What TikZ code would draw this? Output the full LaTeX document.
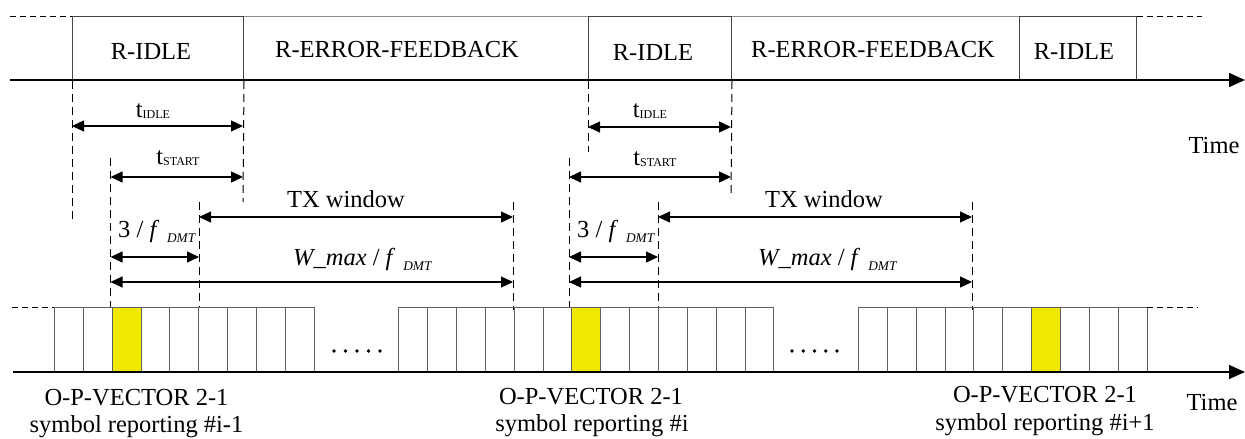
\documentclass[tikz,border=0pt]{standalone}
\usepackage{fontspec}
\setmainfont{Liberation Serif}
\usetikzlibrary{arrows.meta}

\definecolor{cellyellow}{RGB}{240,232,0}
\definecolor{boxedge}{RGB}{70,70,70}
\definecolor{celledge}{RGB}{95,95,95}
\definecolor{topedge}{RGB}{140,140,140}

% small lowered text used for t_IDLE, t_START and f_DMT
\newcommand\lowsub[1]{\raisebox{-1pt}{\fontsize{12}{12}\selectfont #1}}
\newcommand\dmtsub{\hspace{8pt}\raisebox{-5pt}{\fontsize{13.3}{13}\selectfont\itshape DMT}}

\tikzset{
  txt/.style={font=\fontsize{24.5}{29}\selectfont, inner sep=0pt, anchor=base},
  txtw/.style={txt, anchor=base west},
  timebox/.style={draw=boxedge, line width=1pt, minimum height=64pt, inner sep=0pt, anchor=north west},
  gapbox/.style={minimum height=64pt, inner sep=0pt, anchor=north west},
  cell/.style={draw=celledge, line width=0.9pt, minimum width=28.85pt, minimum height=65pt, inner sep=0pt, anchor=north west},
  hot/.style={cell, fill=cellyellow},
  guide/.style={line width=1pt, dash pattern=on 8pt off 5pt},
  stub/.style={line width=1pt, dash pattern=on 6pt off 4pt},
  dim/.style={line width=1.2pt, {Triangle[length=12pt,width=11pt]}-{Triangle[length=12pt,width=11pt]}},
  axis/.style={line width=1.5pt, -{Triangle[length=16pt,width=14pt]}},
  dot/.style={circle, fill=black, inner sep=0pt, minimum size=3.8pt}
}

\begin{document}
\begin{tikzpicture}[x=1pt,y=-1pt]
\useasboundingbox (0,0) rectangle (1245,439);

% ---------- upper time line: R-IDLE / R-ERROR-FEEDBACK states ----------
\node[timebox, minimum width=171pt] (idleA) at (72,16) {};
\node[gapbox,  minimum width=345pt] (errA)  at (243,16) {};
\node[timebox, minimum width=143pt] (idleB) at (588,16) {};
\node[gapbox,  minimum width=288pt] (errB)  at (731,16) {};
\node[timebox, minimum width=117pt] (idleC) at (1019,16) {};

\draw[topedge, line width=1pt] (idleA.north east) -- (idleB.north west);
\draw[topedge, line width=1pt] (idleB.north east) -- (idleC.north west);

\coordinate (topL) at (10,16);
\coordinate (topR) at (1202,16);
\draw[stub] (topL) -- (idleA.north west);
\draw[stub] (idleC.north east) -- (topR);

\node[txt] (lidleA) at (151,59) {R-IDLE};
\node[txt] (lerrA)  at (397,57) {R-ERROR-FEEDBACK};
\node[txt] (lidleB) at (653,60) {R-IDLE};
\node[txt] (lerrB)  at (873,57) {R-ERROR-FEEDBACK};
\node[txt] (lidleC) at (1074,59) {R-IDLE};

\coordinate (axAstart) at (10,80);
\coordinate (axAend) at (1245,80);
\draw[axis] (axAstart) -- (axAend);
\node[txt] (timeA) at (1214,153) {Time};

% ---------- guide lines, first report ----------
\coordinate (gA1) at (72,223);
\coordinate (gA2) at (243,202);
\coordinate (gA3t) at (110.5,158);  \coordinate (gA3b) at (110.5,307);
\coordinate (gA4t) at (199,202);    \coordinate (gA4b) at (199,307);
\coordinate (gA5t) at (513,202);    \coordinate (gA5b) at (513,310);
\draw[guide] (idleA.south west) -- (gA1);
\draw[guide] (idleA.south east) -- (gA2);
\draw[guide] (gA3t) -- (gA3b);
\draw[guide] (gA4t) -- (gA4b);
\draw[guide] (gA5t) -- (gA5b);

% dimension arrows, first report
\coordinate (iA1) at (72,126);   \coordinate (iA2) at (243,126);
\coordinate (sA1) at (110.5,177);\coordinate (sA2) at (243,177);
\coordinate (wA1) at (199,217);  \coordinate (wA2) at (513,217);
\coordinate (fA1) at (110.5,257);\coordinate (fA2) at (199,257);
\coordinate (mA1) at (110.5,282);\coordinate (mA2) at (513,282);
\draw[dim] (iA1) -- (iA2);
\draw[dim] (sA1) -- (sA2);
\draw[dim] (wA1) -- (wA2);
\draw[dim] (fA1) -- (fA2);
\draw[dim] (mA1) -- (mA2);

\node[txt]  (tiA) at (153,117) {t\lowsub{IDLE}};
\node[txt]  (tsA) at (178,164) {t\lowsub{START}};
\node[txt]  (txA) at (346,207) {TX window};
\node[txtw] (tfA) at (118,237) {3 / \textit{f}\dmtsub};
\node[txtw] (tmA) at (293,265) {\textit{W\_max} / \textit{f}\dmtsub};

% ---------- guide lines, second report ----------
\coordinate (gB1) at (588,152);
\coordinate (gB2) at (731,198);
\coordinate (gB3t) at (569,158);  \coordinate (gB3b) at (569,307);
\coordinate (gB4t) at (658,202);  \coordinate (gB4b) at (658,307);
\coordinate (gB5t) at (972,202);  \coordinate (gB5b) at (972,310);
\draw[guide] (idleB.south west) -- (gB1);
\draw[guide] (idleB.south east) -- (gB2);
\draw[guide] (gB3t) -- (gB3b);
\draw[guide] (gB4t) -- (gB4b);
\draw[guide] (gB5t) -- (gB5b);

\coordinate (iB1) at (588,127);  \coordinate (iB2) at (731,127);
\coordinate (sB1) at (569,177);  \coordinate (sB2) at (731,177);
\coordinate (wB1) at (658,217);  \coordinate (wB2) at (972,217);
\coordinate (fB1) at (569,257);  \coordinate (fB2) at (658,257);
\coordinate (mB1) at (569,282);  \coordinate (mB2) at (972,282);
\draw[dim] (iB1) -- (iB2);
\draw[dim] (sB1) -- (sB2);
\draw[dim] (wB1) -- (wB2);
\draw[dim] (fB1) -- (fB2);
\draw[dim] (mB1) -- (mB2);

\node[txt]  (tiB) at (650,117) {t\lowsub{IDLE}};
\node[txt]  (tsB) at (655,165) {t\lowsub{START}};
\node[txt]  (txB) at (824,207) {TX window};
\node[txtw] (tfB) at (577,237) {3 / \textit{f}\dmtsub};
\node[txtw] (tmB) at (758,265) {\textit{W\_max} / \textit{f}\dmtsub};

% ---------- lower time line: DMT symbols ----------
\foreach \i in {1,...,9}{
  \ifnum\i=3 \def\st{hot}\else\def\st{cell}\fi
  \node[\st] (ca\i) at ({54+(\i-1)*28.85},307) {};
}
\foreach \i in {1,...,13}{
  \ifnum\i=7 \def\st{hot}\else\def\st{cell}\fi
  \node[\st] (cb\i) at ({398.3+(\i-1)*28.85},307) {};
}
\foreach \i in {1,...,10}{
  \ifnum\i=7 \def\st{hot}\else\def\st{cell}\fi
  \node[\st] (cc\i) at ({858+(\i-1)*28.85},307) {};
}

\coordinate (botL) at (12,307);
\coordinate (botR) at (1198,307);
\draw[stub] (botL) -- (ca1.north west);
\draw[stub] (cc10.north east) -- (botR);

\foreach \k in {0,...,4}{
  \node[dot] (da\k) at ({334+\k*11.5},351) {};
  \node[dot] (db\k) at ({792+\k*11.25},351) {};
}

\coordinate (axBstart) at (13,372);
\coordinate (axBend) at (1245,372);
\draw[axis] (axBstart) -- (axBend);
\node[txt] (timeB) at (1212,410) {Time};

\node[txt] (opA1) at (136.5,405) {O-P-VECTOR 2-1};
\node[txt] (opA2) at (136.5,432) {symbol reporting \#i-1};
\node[txt] (opB1) at (591,404) {O-P-VECTOR 2-1};
\node[txt] (opB2) at (592,431) {symbol reporting \#i};
\node[txt] (opC1) at (1045,402) {O-P-VECTOR 2-1};
\node[txt] (opC2) at (1045,430) {symbol reporting \#i+1};
\end{tikzpicture}
\end{document}
